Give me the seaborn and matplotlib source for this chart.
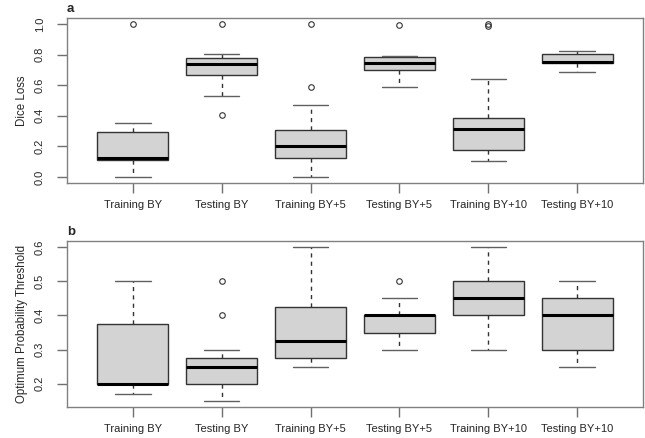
import pandas as pd
import seaborn as sns
import matplotlib.pyplot as plt

OUTPUT_PNG = "out.png"

GROUPS = ["Training BY", "Testing BY", "Training BY+5",
          "Testing BY+5", "Training BY+10", "Testing BY+10"]

# Panel a: Dice loss per group (values estimated from the boxes)
dice_train_by = [0.0, 0.05, 0.10, 0.113, 0.115, 0.12, 0.122, 0.15, 0.22, 0.296, 0.33, 0.355, 1.0]
dice_test_by = [0.405, 0.529, 0.62, 0.669, 0.70, 0.72, 0.739, 0.75, 0.77, 0.78, 0.79, 0.808, 1.0]
dice_train_by5 = [0.0, 0.06, 0.10, 0.124, 0.15, 0.18, 0.20, 0.23, 0.27, 0.305, 0.471, 0.59, 1.0]
dice_test_by5 = [0.59, 0.64, 0.68, 0.699, 0.72, 0.74, 0.749, 0.76, 0.78, 0.786, 0.788, 0.791, 0.996]
dice_train_by10 = [0.107, 0.13, 0.16, 0.179, 0.22, 0.28, 0.312, 0.33, 0.36, 0.388, 0.641, 0.99, 1.0]
dice_test_by10 = [0.684, 0.71, 0.73, 0.743, 0.748, 0.75, 0.754, 0.77, 0.79, 0.806, 0.81, 0.82, 0.824]

# Panel b: optimum probability threshold per group
thr_train_by = [0.17, 0.18, 0.2, 0.2, 0.2, 0.2, 0.2, 0.25, 0.3, 0.375, 0.4, 0.45, 0.5]
thr_test_by = [0.15, 0.18, 0.2, 0.2, 0.2, 0.25, 0.25, 0.25, 0.275, 0.275, 0.3, 0.4, 0.5]
thr_train_by5 = [0.25, 0.25, 0.275, 0.275, 0.3, 0.3, 0.325, 0.35, 0.4, 0.425, 0.5, 0.55, 0.6]
thr_test_by5 = [0.3, 0.3, 0.35, 0.35, 0.35, 0.4, 0.4, 0.4, 0.4, 0.4, 0.45, 0.45, 0.5]
thr_train_by10 = [0.3, 0.35, 0.4, 0.4, 0.4, 0.45, 0.45, 0.45, 0.5, 0.5, 0.55, 0.6, 0.6]
thr_test_by10 = [0.25, 0.3, 0.3, 0.3, 0.35, 0.4, 0.4, 0.4, 0.45, 0.45, 0.5, 0.5, 0.5]

DICE_TICKS = [0.0, 0.2, 0.4, 0.6, 0.8, 1.0]
THR_TICKS = [0.2, 0.3, 0.4, 0.5, 0.6]


def long_frame(series):
    rows = []
    for name, vals in zip(GROUPS, series):
        rows += [(name, v) for v in vals]
    return pd.DataFrame(rows, columns=["group", "value"])


def draw_panel(ax, df, ylabel, ticks, letter):
    sns.boxplot(
        data=df, x="group", y="value", order=GROUPS, ax=ax,
        color="#d3d3d3", saturation=1, width=0.8, linewidth=1,
        linecolor="#333333", whis=1.5,
        medianprops=dict(color="black", linewidth=2.2),
        whiskerprops=dict(color="#333333", linestyle=(0, (3, 3))),
        capprops=dict(color="#606060"),
        flierprops=dict(marker="o", markerfacecolor="none",
                        markeredgecolor="#333333", markersize=4,
                        markeredgewidth=0.8),
        capwidths=0.4,
    )
    ax.set_xlim(-0.74, 5.74)
    vmin, vmax = df["value"].min(), df["value"].max()
    pad = 0.04 * (vmax - vmin)
    ax.set_ylim(vmin - pad, vmax + pad)
    ax.set_yticks(ticks)
    ax.set_yticklabels([f"{t:.1f}" for t in ticks], rotation=90, va="center")
    ax.set_xlabel("")
    ax.set_ylabel(ylabel, fontsize=8.3)
    ax.yaxis.set_label_coords(-0.068, 0.5)
    ax.tick_params(axis="both", labelsize=8, length=7, color="#707070",
                   width=1, direction="out")
    ax.tick_params(axis="y", pad=9)
    ax.tick_params(axis="x", pad=5)
    for sp in ax.spines.values():
        sp.set_visible(True)
        sp.set_color("#808080")
        sp.set_linewidth(1)
    ax.text(0.0, 1.02, letter, transform=ax.transAxes, fontsize=9.5,
            fontweight="bold", ha="left", va="bottom")


def main() -> None:
    sns.set_style("ticks")
    plt.rcParams["font.family"] = ["Liberation Sans", "DejaVu Sans"]

    fig = plt.figure(figsize=(6.45, 4.38), dpi=100)
    ax_a = fig.add_axes([0.1039, 0.582, 0.893, 0.3767])
    ax_b = fig.add_axes([0.1039, 0.0708, 0.893, 0.379])

    draw_panel(ax_a, long_frame([dice_train_by, dice_test_by, dice_train_by5,
                                 dice_test_by5, dice_train_by10, dice_test_by10]),
               "Dice Loss", DICE_TICKS, "a")
    draw_panel(ax_b, long_frame([thr_train_by, thr_test_by, thr_train_by5,
                                 thr_test_by5, thr_train_by10, thr_test_by10]),
               "Optimum Probability Threshold", THR_TICKS, "b")

    fig.savefig(OUTPUT_PNG, dpi=100)


if __name__ == "__main__":
    main()
